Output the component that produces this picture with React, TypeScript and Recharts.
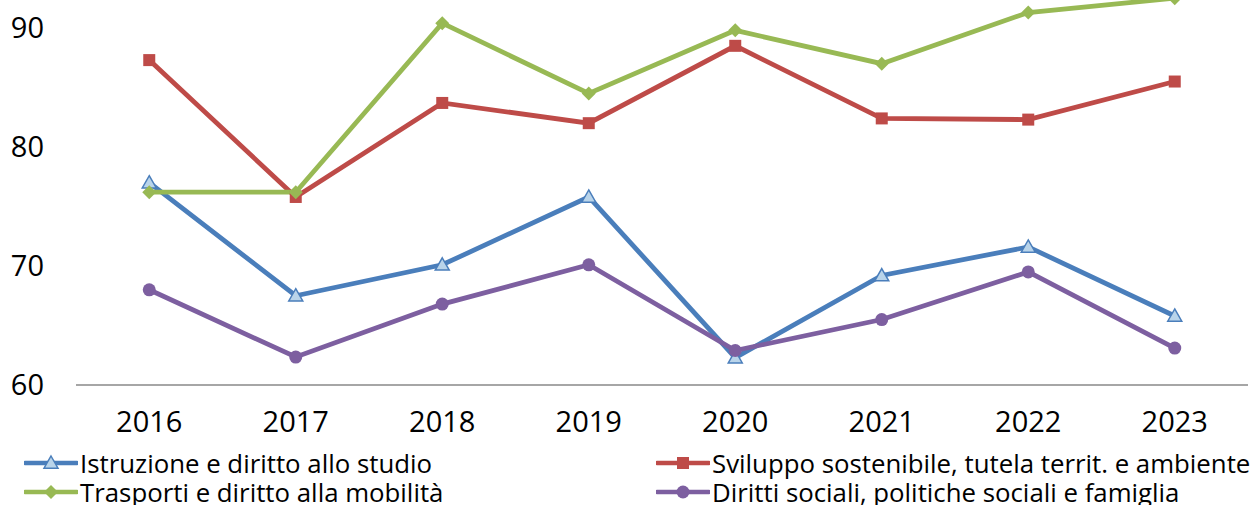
import React from 'react';
import { LineChart, Line, XAxis, YAxis, Legend } from 'recharts';

const years = ['2016', '2017', '2018', '2019', '2020', '2021', '2022', '2023'];
const istruzione = [77.0, 67.5, 70.1, 75.8, 62.3, 69.2, 71.6, 65.8];
const sviluppo = [87.3, 75.8, 83.7, 82.0, 88.5, 82.4, 82.3, 85.5];
const trasporti = [76.2, 76.2, 90.4, 84.5, 89.8, 87.0, 91.3, 92.5];
const diritti = [68.0, 62.35, 66.8, 70.1, 62.9, 65.5, 69.5, 63.1];
const yTicks = [60, 70, 80, 90];

const names = {
  istruzione: 'Istruzione e diritto allo studio',
  sviluppo: 'Sviluppo sostenibile, tutela territ. e ambiente',
  trasporti: 'Trasporti e diritto alla mobilità',
  diritti: 'Diritti sociali, politiche sociali e famiglia',
};

const data = years.map((y, i) => ({
  year: y,
  istruzione: istruzione[i],
  sviluppo: sviluppo[i],
  trasporti: trasporti[i],
  diritti: diritti[i],
}));

const BLUE = '#4A7EBB';
const RED = '#BE4B48';
const GREEN = '#98B954';
const PURPLE = '#7D5FA0';
const FONT = '"Open Sans", sans-serif';

type Shape = 'triangle' | 'square' | 'diamond' | 'circle';

function marker(shape: Shape, cx: number, cy: number, color: string) {
  if (shape === 'triangle') {
    const s = 7;
    return (
      <polygon
        points={`${cx},${cy - s} ${cx + s},${cy + s * 0.75} ${cx - s},${cy + s * 0.75}`}
        fill="#B9D4EA"
        stroke={color}
        strokeWidth={1.5}
      />
    );
  }
  if (shape === 'square') {
    return <rect x={cx - 6} y={cy - 6} width={12} height={12} fill={color} />;
  }
  if (shape === 'diamond') {
    return <polygon points={`${cx},${cy - 7} ${cx + 7},${cy} ${cx},${cy + 7} ${cx - 7},${cy}`} fill={color} />;
  }
  return <circle cx={cx} cy={cy} r={6.5} fill={color} />;
}

const makeDot = (shape: Shape, color: string) => (props: any) => {
  const { cx, cy, index } = props;
  if (cx == null || cy == null) return <g key={index} />;
  return <g key={`${shape}-${index}`}>{marker(shape, cx, cy, color)}</g>;
};

const legendItems: { key: string; shape: Shape; color: string; left: number; top: number }[] = [
  { key: 'istruzione', shape: 'triangle', color: BLUE, left: 24, top: 18 },
  { key: 'sviluppo', shape: 'square', color: RED, left: 656, top: 18 },
  { key: 'trasporti', shape: 'diamond', color: GREEN, left: 24, top: 47 },
  { key: 'diritti', shape: 'circle', color: PURPLE, left: 656, top: 47 },
];

const LegendContent = () => (
  <div style={{ position: 'relative', width: 1255, height: 60, fontFamily: FONT }}>
    {legendItems.map((it) => (
      <div
        key={it.key}
        style={{
          position: 'absolute',
          left: it.left,
          top: it.top - 13,
          height: 26,
          display: 'flex',
          alignItems: 'center',
          whiteSpace: 'nowrap',
        }}
      >
        <svg width={54} height={20} style={{ display: 'block' }}>
          <line x1={1} y1={10} x2={53} y2={10} stroke={it.color} strokeWidth={4.5} strokeLinecap="round" />
          {marker(it.shape, 27, 10, it.color)}
        </svg>
        <span style={{ fontSize: 25.8, color: '#000', marginLeft: 2, lineHeight: '26px' }}>
          {(names as any)[it.key]}
        </span>
      </div>
    ))}
  </div>
);

export default function App() {
  return (
    <div style={{ position: 'absolute', left: 0, top: 0, width: 1255, height: 505, background: '#fff' }}>
      <LineChart width={1255} height={505} data={data} margin={{ top: 0, right: 7, left: 0, bottom: 0 }}>
        <XAxis
          dataKey="year"
          scale="band"
          tickLine={false}
          tickSize={0}
          tickMargin={26}
          height={60}
          axisLine={{ stroke: '#898989', strokeWidth: 1.5 }}
          tick={{ fontSize: 29, fill: '#000', fontFamily: FONT }}
          interval={0}
        />
        <YAxis
          domain={[60, 92.35]}
          allowDataOverflow
          ticks={yTicks}
          width={76}
          axisLine={false}
          tickLine={false}
          tickSize={0}
          tickMargin={32}
          tick={{ fontSize: 29, fill: '#000', fontFamily: FONT }}
        />
        <Line dataKey="istruzione" name={names.istruzione} stroke={BLUE} strokeWidth={4.8} dot={makeDot('triangle', BLUE)} isAnimationActive={false} />
        <Line dataKey="sviluppo" name={names.sviluppo} stroke={RED} strokeWidth={4.8} dot={makeDot('square', RED)} isAnimationActive={false} />
        <Line dataKey="trasporti" name={names.trasporti} stroke={GREEN} strokeWidth={4.8} dot={makeDot('diamond', GREEN)} isAnimationActive={false} />
        <Line dataKey="diritti" name={names.diritti} stroke={PURPLE} strokeWidth={4.8} dot={makeDot('circle', PURPLE)} isAnimationActive={false} />
        <Legend
          verticalAlign="bottom"
          height={60}
          content={() => <LegendContent />}
          wrapperStyle={{ left: 0, width: 1255 }}
        />
      </LineChart>
    </div>
  );
}
